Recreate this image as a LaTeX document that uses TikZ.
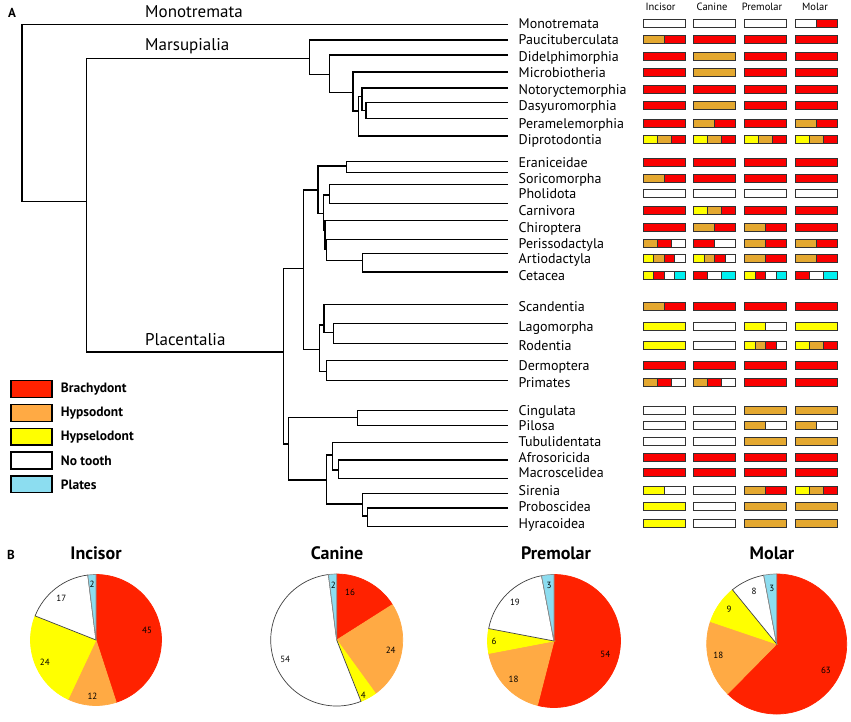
\documentclass[tikz,border=0pt]{standalone}
\usepackage{fontspec}
\setmainfont{PT Sans}
\definecolor{bR}{RGB}{250,0,0}
\definecolor{bO}{RGB}{228,168,48}
\definecolor{bY}{RGB}{255,255,0}
\definecolor{bW}{RGB}{255,255,255}
\definecolor{bC}{RGB}{0,240,240}
\definecolor{barline}{RGB}{50,50,50}
\definecolor{pR}{RGB}{255,34,0}
\definecolor{pO}{RGB}{255,170,68}
\definecolor{pY}{RGB}{255,255,0}
\definecolor{pC}{RGB}{140,221,240}
\newcommand\tbar[3]{%
  \foreach \cc [count=\kk] in {#3} {\xdef\nseg{\kk}}%
  \foreach \cc [count=\kk] in {#3} {%
    \filldraw[fill=\cc, draw=barline, line width=0.6pt] ({#1+(\kk-1)*42/\nseg}, {#2-4}) rectangle ({#1+\kk*42/\nseg}, {#2+4});}%
  \draw[barline, line width=1pt] (#1,{#2-4}) rectangle ({#1+42},{#2+4});%
}
\newcommand\trow[7]{%
  \node[taxon] (t#1) at (518.5,{#2+5}) {#3};%
  \tbar{643}{#2}{#4}\tbar{693.5}{#2}{#5}\tbar{744.5}{#2}{#6}\tbar{795.5}{#2}{#7}%
}
\newcommand\pslice[5]{% r, start, end, fill, draw
  \filldraw[fill=#4, draw=#5, line width=0.7pt] (0,0) -- (#2:#1) arc[start angle=#2, end angle=#3, radius=#1] -- cycle;}
\begin{document}
\begin{tikzpicture}[x=1pt,y=-1pt,
  br/.style={line width=1.4pt, black},
  taxon/.style={anchor=base west, inner sep=0pt, font=\fontsize{14}{14}\selectfont},
  clade/.style={anchor=base west, inner sep=0pt, font=\fontsize{17}{17}\selectfont},
  hdr/.style={inner sep=0pt, font=\fontsize{10.5}{10.5}\selectfont},
  panel/.style={inner sep=0pt, font=\fontsize{13}{13}\selectfont\bfseries},
  ptitle/.style={inner sep=0pt, font=\fontsize{18}{18}\selectfont\bfseries},
  pnum/.style={inner sep=0pt, font=\fontsize{9}{9}\selectfont},
  legbox/.style={draw=black, line width=1.5pt},
  legtext/.style={anchor=west, inner sep=0pt, font=\fontsize{13.5}{13.5}\selectfont\bfseries}]
\useasboundingbox (0,0) rectangle (851,721);
\fill[white] (0,0) rectangle (851,721);

% panel labels
\node[panel] (pA) at (12,12.5) {A};
\node[panel] (pB) at (11,555) {B};

% clade labels
\node[clade] (cMono) at (145,17.5) {Monotremata};
\node[clade] (cMars) at (145,50.7) {Marsupialia};
\node[clade] (cPlac) at (145,345.7) {Placentalia};

% column headers
\node[hdr] (hI) at (660.5,7) {Incisor};
\node[hdr] (hC) at (712,7) {Canine};
\node[hdr] (hP) at (762,7) {Premolar};
\node[hdr] (hM) at (815,7) {Molar};

% leaves
\foreach \n/\yy in {mono/24.3, pauc/40, dide/55, micr/72, noto/88, dasy/102.5, pera/118.5, dipr/136,
  eran/161.2, sori/172.5, phol/184.7, carn/203.3, chir/220.7, peri/239.3, arti/253.7, ceta/271.8,
  scan/304.3, lago/323.3, rode/343.3, derm/360.7, prim/380.7,
  cing/410.7, pilo/425.3, tubu/442.7, afro/460, macr/478.3, sire/493.3, prob/508, hyra/526.7}
  {\coordinate (\n) at (508,\yy);}
% internal nodes
\coordinate (root) at (22,100);
\coordinate (T) at (86.7,201.7);
\coordinate (M1) at (309.3,58.7);
\coordinate (M2) at (329.5,74.3);
\coordinate (M3) at (353,92.7);
\coordinate (M4) at (358.7,111);
\coordinate (M5) at (362,96.5);
\coordinate (M6) at (365.8,110.5);
\coordinate (P0) at (283.3,352);
\coordinate (B0) at (303.3,268.3);
\coordinate (L0) at (317.8,190);
\coordinate (ES) at (346.7,166);
\coordinate (L1) at (323.3,213.3);
\coordinate (PC) at (329.3,195);
\coordinate (L2) at (325,230);
\coordinate (L3) at (326.7,249);
\coordinate (AC) at (362.7,260.5);
\coordinate (E0) at (319.3,349.3);
\coordinate (SC) at (324,325);
\coordinate (LR) at (333.3,332.7);
\coordinate (DP) at (326.7,371.7);
\coordinate (A0) at (288.3,444);
\coordinate (X0) at (357.3,417.7);
\coordinate (AF) at (326.7,480);
\coordinate (TA) at (332.7,455);
\coordinate (AM) at (338.3,470);
\coordinate (SP) at (362.7,504);
\coordinate (PH) at (367.3,516);

\draw[br] (mono) -| (root) |- (T);
\draw[br] (M1) -| (T) |- (P0);
\draw[br] (pauc) -| (M1) |- (M2);
\draw[br] (dide) -| (M2) |- (M3);
\draw[br] (micr) -| (M3) |- (M4);
\draw[br] (M5) -| (M4) |- (dipr);
\draw[br] (noto) -| (M5) |- (M6);
\draw[br] (dasy) -| (M6) |- (pera);
\draw[br] (B0) -| (P0) |- (A0);
\draw[br] (L0) -| (B0) |- (E0);
\draw[br] (ES) -| (L0) |- (L1);
\draw[br] (eran) -| (ES) |- (sori);
\draw[br] (PC) -| (L1) |- (L2);
\draw[br] (phol) -| (PC) |- (carn);
\draw[br] (chir) -| (L2) |- (L3);
\draw[br] (peri) -| (L3) |- (AC);
\draw[br] (arti) -| (AC) |- (ceta);
\draw[br] (SC) -| (E0) |- (DP);
\draw[br] (scan) -| (SC) |- (LR);
\draw[br] (lago) -| (LR) |- (rode);
\draw[br] (derm) -| (DP) |- (prim);
\draw[br] (X0) -| (A0) |- (AF);
\draw[br] (cing) -| (X0) |- (pilo);
\draw[br] (TA) -| (AF) |- (SP);
\draw[br] (tubu) -| (TA) |- (AM);
\draw[br] (afro) -| (AM) |- (macr);
\draw[br] (sire) -| (SP) |- (PH);
\draw[br] (prob) -| (PH) |- (hyra);

% rows: name, y, label, incisor, canine, premolar, molar
\trow{mono}{23.5}{Monotremata}{bW}{bW}{bW}{bW,bR}
\trow{pauc}{39.5}{Paucituberculata}{bO,bR}{bR}{bR}{bR}
\trow{dide}{56}{Didelphimorphia}{bR}{bO}{bR}{bR}
\trow{micr}{72.5}{Microbiotheria}{bR}{bO}{bR}{bR}
\trow{noto}{89.5}{Notoryctemorphia}{bR}{bR}{bR}{bR}
\trow{dasy}{105.5}{Dasyuromorphia}{bR}{bO}{bR}{bR}
\trow{pera}{123}{Peramelemorphia}{bR}{bO,bR}{bR}{bO,bR}
\trow{dipr}{139}{Diprotodontia}{bY,bO,bR}{bY,bO,bR}{bY,bO,bR}{bY,bO,bR}
\trow{eran}{162.5}{Eraniceidae}{bR}{bR}{bR}{bR}
\trow{sori}{178}{Soricomorpha}{bO,bR}{bR}{bR}{bR}
\trow{phol}{193.5}{Pholidota}{bW}{bW}{bW}{bW}
\trow{carn}{210.3}{Carnivora}{bR}{bY,bO,bR}{bR}{bR}
\trow{chir}{227}{Chiroptera}{bR}{bO,bR}{bO,bR}{bR}
\trow{peri}{243}{Perissodactyla}{bO,bR,bW}{bR,bW}{bO,bR}{bO,bR}
\trow{arti}{258.5}{Artiodactyla}{bY,bO,bR,bW}{bY,bO,bR,bW}{bO,bR}{bO,bR}
\trow{ceta}{275}{Cetacea}{bY,bR,bW,bC}{bR,bW,bC}{bY,bR,bW,bC}{bR,bW,bC}
\trow{scan}{306.3}{Scandentia}{bO,bR}{bR}{bR}{bR}
\trow{lago}{326.3}{Lagomorpha}{bY}{bW}{bY,bW}{bY}
\trow{rode}{345.3}{Rodentia}{bY}{bW}{bY,bO,bR,bW}{bY,bO,bR}
\trow{derm}{365}{Dermoptera}{bR}{bR}{bR}{bR}
\trow{prim}{382.5}{Primates}{bO,bR,bW}{bO,bR,bW}{bR}{bR}
\trow{cing}{410}{Cingulata}{bW}{bW}{bO}{bO}
\trow{pilo}{425.7}{Pilosa}{bW}{bW}{bO,bW}{bO,bW}
\trow{tubu}{441.3}{Tubulidentata}{bW}{bW}{bO}{bO}
\trow{afro}{457}{Afrosoricida}{bR}{bR}{bR}{bR}
\trow{macr}{472.3}{Macroscelidea}{bR}{bR}{bR}{bR}
\trow{sire}{490.5}{Sirenia}{bY,bW}{bW}{bO,bR}{bY,bO,bR}
\trow{prob}{506.7}{Proboscidea}{bY}{bW}{bO}{bO}
\trow{hyra}{523.3}{Hyracoidea}{bY}{bW}{bO}{bO}

% legend
\draw[legbox, fill=pR] (11,380.7) rectangle (52,397.5);
\node[legtext] (lg1) at (60.7,389.1) {Brachydont};
\draw[legbox, fill=pO] (11,404.5) rectangle (52,421.3);
\node[legtext] (lg2) at (60.7,412.9) {Hypsodont};
\draw[legbox, fill=pY] (11,428.3) rectangle (52,445.1);
\node[legtext] (lg3) at (60.7,436.7) {Hypselodont};
\draw[legbox, fill=white] (11,452.1) rectangle (52,468.9);
\node[legtext] (lg4) at (60.7,460.5) {No tooth};
\draw[legbox, fill=pC] (11,475.9) rectangle (52,492.7);
\node[legtext] (lg5) at (60.7,484.3) {Plates};

% pie titles
\node[ptitle] (ti1) at (96,553) {Incisor};
\node[ptitle] (ti2) at (337,553) {Canine};
\node[ptitle] (ti3) at (556,553) {Premolar};
\node[ptitle] (ti4) at (772,553) {Molar};

% pies
\coordinate (pc1) at (96,640);
\coordinate (pc2) at (336.7,640);
\coordinate (pc3) at (554,641);
\coordinate (pc4) at (776.7,644);

\begin{scope}[shift={(pc1)}, yscale=-1]
\pslice{65.5}{90}{-72}{pR}{pR}
\pslice{65.5}{-72}{-115.2}{pO}{pO}
\pslice{65.5}{-115.2}{-201.6}{pY}{pY}
\pslice{65.5}{-201.6}{-262.8}{white}{black!75}
\pslice{65.5}{-262.8}{-270}{pC}{black!45}
\node[pnum] (n11) at (11:52) {45};
\node[pnum] (n12) at (-93.6:56) {12};
\node[pnum] (n13) at (-156:56) {24};
\node[pnum] (n14) at (-230:54) {17};
\node[pnum] (n15) at (-266:55.5) {2};
\end{scope}

\begin{scope}[shift={(pc2)}, yscale=-1]
\pslice{66}{90}{32.4}{pR}{pR}
\pslice{66}{32.4}{-54}{pO}{pO}
\pslice{66}{-54}{-68.4}{pY}{pY}
\pslice{66}{-68.4}{-262.8}{white}{black!75}
\pslice{66}{-262.8}{-270}{pC}{black!45}
\node[pnum] (n21) at (74.4:49.5) {16};
\node[pnum] (n22) at (-11.2:55) {24};
\node[pnum] (n23) at (-64:61) {4};
\node[pnum] (n24) at (-159.5:55) {54};
\node[pnum] (n25) at (-266.5:55) {2};
\end{scope}

\begin{scope}[shift={(pc3)}, yscale=-1]
\pslice{66.5}{90}{-104.4}{pR}{pR}
\pslice{66.5}{-104.4}{-169.2}{pO}{pO}
\pslice{66.5}{-169.2}{-190.8}{pY}{pY}
\pslice{66.5}{-190.8}{-259.2}{white}{black!75}
\pslice{66.5}{-259.2}{-270}{pC}{black!45}
\node[pnum] (n31) at (-14.4:53) {54};
\node[pnum] (n32) at (-136.2:56) {18};
\node[pnum] (n33) at (-180:60) {6};
\node[pnum] (n34) at (-224.8:55) {19};
\node[pnum] (n35) at (-264.8:55.5) {3};
\end{scope}

\begin{scope}[shift={(pc4)}, yscale=-1]
\pslice{70}{90}{-134.55}{pR}{pR}
\pslice{70}{-134.55}{-198.71}{pO}{pO}
\pslice{70}{-198.71}{-230.79}{pY}{pY}
\pslice{70}{-230.79}{-259.31}{white}{black!75}
\pslice{70}{-259.31}{-270}{pC}{black!45}
\node[pnum] (n41) at (-28.4:56) {63};
\node[pnum] (n42) at (-168.7:59.5) {18};
\node[pnum] (n43) at (-216:59) {9};
\node[pnum] (n44) at (-246.5:57) {8};
\node[pnum] (n45) at (-264.9:56) {3};
\end{scope}
\end{tikzpicture}
\end{document}
